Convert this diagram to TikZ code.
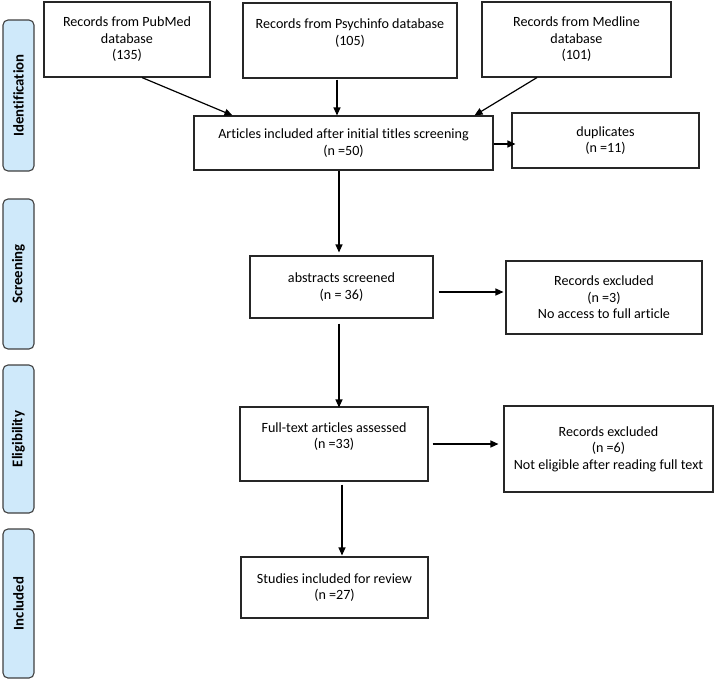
\documentclass[tikz,border=0pt]{standalone}
\usepackage{fontspec}
\setmainfont{Carlito}[Ligatures={NoCommon,NoContextual}]
\usetikzlibrary{arrows.meta,calc}
\definecolor{phaseblue}{HTML}{CFE9FA}
\begin{document}
\begin{tikzpicture}[x=1pt,y=-1pt,
  box/.style={draw=black!85, line width=1.1pt, align=center, inner sep=0pt,
    font=\fontsize{14.1}{16.5}\selectfont},
  phase/.style={draw=black!75, fill=phaseblue, rounded corners=5pt, line width=1.1pt,
    rotate=90, inner sep=0pt, minimum height=31pt,
    font=\fontsize{14.8}{17}\selectfont\bfseries},
  arr/.style={line width=1.2pt, -{Triangle[length=8pt,width=7pt]}}]
\useasboundingbox (0,0) rectangle (715,681);

% phase labels
\node[phase, minimum width=151pt] (idn) at (18.5,95.5) {Identification};
\node[phase, minimum width=150pt] (scr) at (18.5,274) {Screening};
\node[phase, minimum width=148pt] (eli) at (18.5,439) {Eligibility};
\node[phase, minimum width=149pt] (inc) at (18.5,603.5) {Included};

% boxes
\node[box, minimum width=166pt, minimum height=75pt] (pub) at (127,39.5)
  {Records from PubMed\\database\\(135)};
\node[box, minimum width=214pt, minimum height=75pt] (psy) at (350,40.5)
  {Records from Psychinfo database\\(105)\\\mbox{}};
\node[box, minimum width=189pt, minimum height=75pt] (med) at (576.5,39.5)
  {Records from Medline\\database\\(101)};
\node[box, minimum width=299pt, minimum height=54pt] (art) at (343.5,143)
  {Articles included after initial titles screening\\(n =50)};
\node[box, minimum width=187pt, minimum height=55pt] (dup) at (605.5,140.5)
  {duplicates\\(n =11)};
\node[box, minimum width=183pt, minimum height=62pt] (abs) at (341.5,287)
  {abstracts screened\\(n = 36)};
\node[box, minimum width=196pt, minimum height=73pt] (ex1) at (604,297.5)
  {Records excluded\\(n =3)\\No access to full article};
\node[box, minimum width=188pt, minimum height=74pt] (ful) at (334,444)
  {Full-text articles assessed\\(n =33)\\\mbox{}};
\node[box, minimum width=209pt, minimum height=86pt] (ex2) at (608.5,449)
  {Records excluded\\(n =6)\\Not eligible after reading full text};
\node[box, minimum width=187pt, minimum height=61pt] (stu) at (334.5,587.5)
  {Studies included for review\\(n =27)};

% connectors
\draw[arr] ($(pub.south)+(15,0)$) -- ($(art.north west)+(39,0)$);
\draw[arr] ($(psy.south)+(-13,1)$) -- ($(art.north)+(-6.5,0)$);
\draw[arr] ($(med.south)+(-39.5,0)$) -- ($(art.north east)+(-19,0)$);
\draw[arr] ($(art.east)+(0,1)$) -- ($(dup.west)+(4,3.5)$);
\draw[arr] ($(art.south)+(-4.5,0)$) -- ($(abs.north)+(-2.5,-3)$);
\draw[arr] ($(abs.east)+(5,5)$) -- ($(ex1.west)+(-2,-5.5)$);
\draw[arr] ($(abs.south)+(-2.5,5)$) -- ($(ful.north)+(5,1)$);
\draw[arr] ($(ful.east)+(4,0)$) -- ($(ex2.west)+(-5,-5)$);
\draw[arr] ($(ful.south)+(8,3)$) -- ($(stu.north)+(7.5,-1)$);
\end{tikzpicture}
\end{document}
